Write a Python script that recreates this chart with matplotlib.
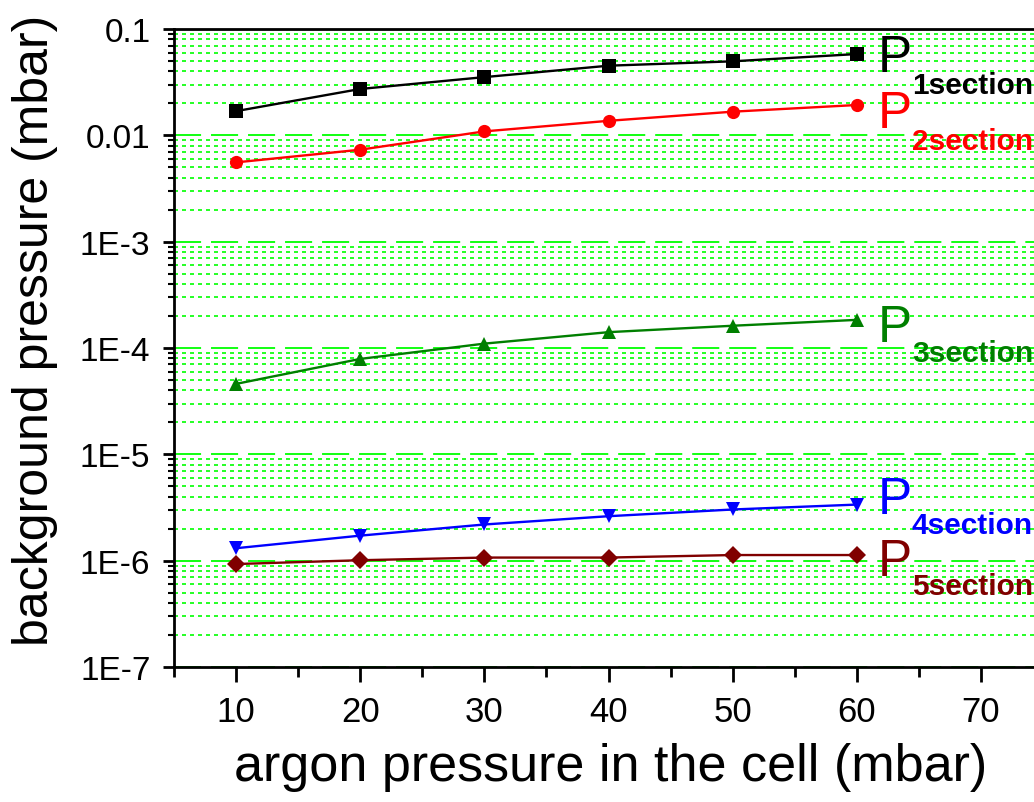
import numpy as np
import matplotlib
matplotlib.use('Agg')
import matplotlib.pyplot as plt
from matplotlib.ticker import FixedLocator, MultipleLocator, LogLocator, NullFormatter

plt.rcParams['font.family'] = ['Liberation Sans', 'DejaVu Sans']

# argon pressure in the cell (mbar)
argon = [10, 20, 30, 40, 50, 60]

# background pressure per section (mbar)
p1 = [0.0169, 0.0273, 0.0353, 0.0452, 0.0497, 0.0582]
p2 = [0.00557, 0.00733, 0.0109, 0.0137, 0.0167, 0.0193]
p3 = [4.6e-5, 7.9e-5, 1.10e-4, 1.41e-4, 1.62e-4, 1.84e-4]
p4 = [1.31e-6, 1.72e-6, 2.19e-6, 2.62e-6, 3.03e-6, 3.37e-6]
p5 = [9.3e-7, 1.01e-6, 1.07e-6, 1.07e-6, 1.13e-6, 1.13e-6]

section_names = ['1section', '2section', '3section', '4section', '5section']
y_ticks = [1e-7, 1e-6, 1e-5, 1e-4, 1e-3, 1e-2, 1e-1]
y_tick_labels = ['1E-7', '1E-6', '1E-5', '1E-4', '1E-3', '0.01', '0.1']
x_ticks = [10, 20, 30, 40, 50, 60, 70]

series = [p1, p2, p3, p4, p5]
colors = ['black', 'red', '#007f00', 'blue', '#800000']
markers = ['s', 'o', '^', 'v', 'D']
msizes = [9.5, 9.5, 10.5, 10.5, 9.5]
# label offsets in pixels from the last point: (P baseline drop, subscript baseline drop)
label_drop = [(17, 39), (22, 44), (21, 41), (8, 28), (20, 39)]

fig = plt.figure(figsize=(10.34, 8.03), dpi=100)
ax = fig.add_axes([0.1683, 0.1681, 0.8404, 0.7945])

for ys, c, m, ms, name, (d1, d2) in zip(series, colors, markers, msizes, section_names, label_drop):
    ax.plot(argon, ys, color=c, marker=m, markersize=ms, markeredgewidth=0,
            linewidth=1.7, zorder=3, clip_on=False)
    # P label next to the last point (offsets given in px, dpi is 100)
    ax.annotate('P', xy=(argon[-1], ys[-1]), xytext=(21 * 0.72, -d1 * 0.72),
                textcoords='offset points', color=c, fontsize=37,
                ha='left', va='baseline', annotation_clip=False)
    ax.annotate(name, xy=(argon[-1], ys[-1]), xytext=(55 * 0.72, -d2 * 0.72),
                textcoords='offset points', color=c, fontsize=21.5, fontweight='bold',
                ha='left', va='baseline', annotation_clip=False)

ax.set_yscale('log')
ax.set_ylim(1e-7, 0.1)
ax.set_xlim(5, 75)

ax.yaxis.set_major_locator(FixedLocator(y_ticks))
ax.set_yticklabels(y_tick_labels)
ax.yaxis.set_minor_locator(LogLocator(base=10, subs=np.arange(2, 10)))
ax.yaxis.set_minor_formatter(NullFormatter())
ax.set_xticks(x_ticks)
ax.xaxis.set_minor_locator(MultipleLocator(5))

# grid: long dashes at decades, short dashes in between
ax.grid(True, which='major', axis='y', color='#00ff00', linewidth=1.3,
        linestyle=(0, (15, 5.5)), zorder=1)
ax.grid(True, which='minor', axis='y', color='#00ff00', linewidth=1.2,
        linestyle=(0, (2.4, 2.4)), zorder=1)
ax.set_axisbelow(True)

for side in ['left', 'bottom', 'top', 'right']:
    ax.spines[side].set_linewidth(2)

ax.tick_params(axis='y', which='major', direction='out', length=8, width=2,
               labelsize=24, pad=9)
ax.tick_params(axis='y', which='minor', direction='out', length=4, width=1.5)
ax.tick_params(axis='x', which='major', direction='out', length=11, width=2,
               labelsize=25, pad=9)
ax.tick_params(axis='x', which='minor', direction='out', length=7, width=2)

ax.set_xlabel('argon pressure in the cell (mbar)', fontsize=37.5)
ax.set_ylabel('background pressure (mbar)', fontsize=36)
ax.xaxis.set_label_coords(0.502, -0.118)
ax.yaxis.set_label_coords(-0.134, 0.530)

fig.savefig('out.png', dpi=100)
